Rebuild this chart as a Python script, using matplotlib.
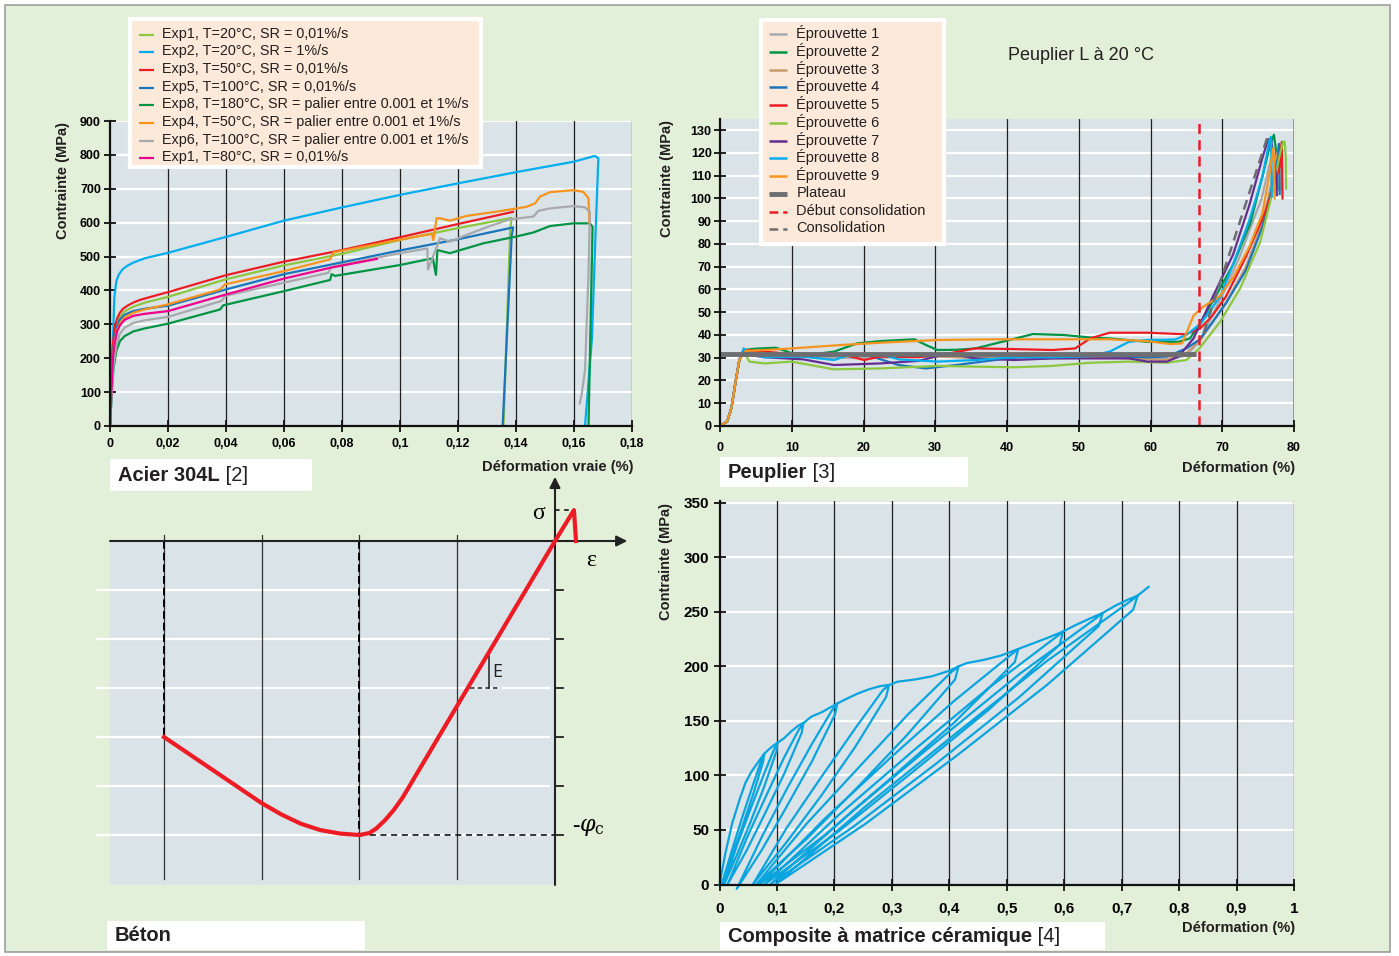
import matplotlib
matplotlib.use('Agg')
import matplotlib.pyplot as plt
from matplotlib.patches import Rectangle

plt.rcParams['font.family'] = ['Liberation Sans', 'DejaVu Sans']

W, H = 1399, 956
GREEN_BG = '#e2efd9'
PLOT_BG = '#dae3e8'
PEACH = '#fde9d9'
GRID_V = '#1e1e1e'

# ---------------- Acier 304L ----------------
steel_labels = ['Exp1, T=20°C, SR = 0,01%/s', 'Exp2, T=20°C, SR = 1%/s',
                'Exp3, T=50°C, SR = 0,01%/s', 'Exp5, T=100°C, SR = 0,01%/s',
                'Exp8, T=180°C, SR = palier entre 0.001 et 1%/s',
                'Exp4, T=50°C, SR = palier entre 0.001 et 1%/s',
                'Exp6, T=100°C, SR = palier entre 0.001 et 1%/s',
                'Exp1, T=80°C, SR = 0,01%/s']
steel_colors = ['#8dc63f', '#00aeef', '#ed1c24', '#1b75bc', '#009444', '#f7941d', '#a7a9ac', '#ec008c']

exp1_20_x = [0, 0.0004, 0.001, 0.0016, 0.0025, 0.0035, 0.005, 0.008, 0.012, 0.02, 0.04, 0.06, 0.08, 0.1,
             0.12, 0.1385, 0.138, 0.1357]
exp1_20_y = [0, 100, 230, 270, 300, 322, 338, 352, 364, 381, 433, 474, 508, 549, 584, 614, 580, 0]
exp2_x = [0, 0.0006, 0.001, 0.0015, 0.0022, 0.003, 0.0042, 0.0058, 0.008, 0.012, 0.02, 0.04, 0.06, 0.08,
          0.1, 0.12, 0.14, 0.16, 0.1672, 0.1684, 0.1674, 0.1662, 0.1638]
exp2_y = [0, 100, 250, 380, 428, 446, 461, 472, 482, 495, 511, 558, 606, 645, 682, 716, 749, 780, 797, 790,
          560, 260, 0]
exp3_x = [0, 0.0003, 0.0009, 0.0017, 0.0025, 0.0034, 0.0045, 0.006, 0.008, 0.0103, 0.014, 0.02, 0.04, 0.06,
          0.08, 0.1, 0.12, 0.139]
exp3_y = [0, 90, 235, 295, 318, 334, 346, 355, 364, 372, 381, 395, 445, 485, 519, 557, 596, 632]
exp5_x = [0, 0.0004, 0.001, 0.0016, 0.0025, 0.0034, 0.005, 0.008, 0.012, 0.02, 0.04, 0.06, 0.08, 0.1, 0.12,
          0.139, 0.1385, 0.1354]
exp5_y = [0, 90, 215, 258, 295, 314, 328, 339, 346, 355, 403, 448, 483, 518, 551, 586, 560, 0]
exp8_x = [0, 0.0005, 0.0012, 0.0022, 0.0034, 0.005, 0.008, 0.012, 0.02, 0.038, 0.039, 0.06, 0.0759, 0.0764,
          0.0776, 0.1, 0.1113, 0.1124, 0.1129, 0.1172, 0.1287, 0.14, 0.146, 0.1517, 0.1598, 0.1655, 0.1664,
          0.165]
exp8_y = [0, 80, 170, 222, 250, 265, 279, 288, 302, 344, 356, 398, 431, 448, 443, 475,
          495, 446, 519, 510, 539, 559, 571, 590, 598, 598, 588, 0]
exp4_x = [0, 0.0004, 0.001, 0.0016, 0.0025, 0.0034, 0.005, 0.008, 0.012, 0.02, 0.038, 0.0397, 0.06, 0.0759,
          0.077, 0.1, 0.111, 0.1115, 0.1126, 0.1138, 0.1172, 0.123, 0.1345, 0.1437, 0.1466, 0.1483, 0.1517,
          0.1598, 0.1632, 0.165, 0.1653]
exp4_y = [0, 90, 200, 250, 284, 302, 320, 334, 344, 359, 403, 418, 457, 492, 512, 550, 567,
          549, 613, 613, 606, 620, 634, 647, 657, 677, 690, 696, 691, 672, 600]
exp6_x = [0, 0.0005, 0.0012, 0.0022, 0.0034, 0.005, 0.008, 0.012, 0.02, 0.0385, 0.0397, 0.06, 0.0753, 0.0764,
          0.1, 0.1094, 0.1097, 0.1138, 0.1172, 0.123, 0.131, 0.138, 0.146, 0.1477, 0.1517, 0.1598, 0.1638,
          0.1655, 0.165, 0.1638, 0.1627, 0.162]
exp6_y = [0, 80, 180, 238, 272, 290, 304, 312, 322, 369, 384, 423, 452, 470,
          510, 524, 462, 554, 544, 564, 590, 610, 618, 635, 642, 649, 645, 632, 450, 165, 96, 67]
exp1_80_x = [0, 0.0004, 0.001, 0.0016, 0.0025, 0.0034, 0.005, 0.008, 0.012, 0.02, 0.04, 0.06, 0.076, 0.092]
exp1_80_y = [0, 90, 200, 245, 280, 297, 313, 325, 331, 339, 388, 435, 467, 493]
steel_x = [exp1_20_x, exp2_x, exp3_x, exp5_x, exp8_x, exp4_x, exp6_x, exp1_80_x]
steel_y = [exp1_20_y, exp2_y, exp3_y, exp5_y, exp8_y, exp4_y, exp6_y, exp1_80_y]
steel_xticks = [0, 0.02, 0.04, 0.06, 0.08, 0.1, 0.12, 0.14, 0.16, 0.18]
steel_xticklabels = ['0', '0,02', '0,04', '0,06', '0,08', '0,1', '0,12', '0,14', '0,16', '0,18']
steel_yticks = [0, 100, 200, 300, 400, 500, 600, 700, 800, 900]

# ---------------- Peuplier ----------------
pop_labels = ['Éprouvette 1', 'Éprouvette 2', 'Éprouvette 3', 'Éprouvette 4', 'Éprouvette 5',
              'Éprouvette 6', 'Éprouvette 7', 'Éprouvette 8', 'Éprouvette 9']
pop_colors = ['#a7a9ac', '#009444', '#c69c6d', '#1b75bc', '#ed1c24', '#8dc63f', '#662d91', '#00aeef', '#f7941d']
ep1_x = [0, 1, 1.6, 2.2, 2.7, 3.3, 6, 10, 15, 20, 25, 30, 35, 40, 45, 50, 55, 60, 63, 65, 67, 68.5, 70.4,
         72.5, 74.5, 75.5, 76.6, 77.1, 77.3]
ep1_y = [0, 2, 8, 20, 29, 33, 31, 30.5, 30, 29.8, 30.2, 30.5, 30, 29.5, 29.5, 30, 30, 29.5, 29.5, 31, 38, 48, 60,
         75, 92, 100, 115, 120, 108]
ep2_x = [0, 1, 1.6, 2.2, 2.7, 3.3, 5, 7.8, 10, 13, 15.9, 19.1, 22.3, 27.1, 28.7, 30.3, 33, 35.6, 39.3, 43.6,
         47.9, 51.6, 54.3, 59.6, 63.9, 65.5, 66.9, 69.3, 71.6, 73.9, 75.7, 76.7, 77.2, 77.5, 77.7]
ep2_y = [0, 2, 8, 20, 29, 33.4, 34, 34.4, 32, 31.5, 32.7, 36.3, 37.3, 38.1, 35.6, 33.4, 33.5, 34.1, 37, 40.4,
         40, 38.9, 38.5, 37, 37, 38.5, 45.1, 58.3, 71.5, 89, 111, 124, 128, 121, 104]
ep3_x = [0, 1, 1.6, 2.2, 2.7, 3.3, 6, 10, 15, 20, 27.6, 35, 45, 55, 62, 65, 67, 68.5, 70.5, 73.3, 75, 76.4,
         77.5, 78, 78.1, 78.2]
ep3_y = [0, 2, 8, 20, 29, 33, 31.5, 31, 31, 31, 31, 30, 30.5, 30, 29, 32, 38, 45, 54, 70, 84, 100,
         118, 124, 115, 104]
ep4_x = [0, 1, 1.6, 2.2, 2.7, 3.3, 6.2, 11.6, 15.9, 20.1, 24.9, 28.7, 32.9, 38.3, 43.6, 49, 54.3, 59.6, 62.3,
         65, 66.8, 68.5, 70.5, 73.3, 75.6, 77.1, 77.8, 77.9, 78.0]
ep4_y = [0, 2, 8, 20, 29, 33.4, 30.7, 31.2, 31.2, 31.6, 26.8, 25.3, 26.8, 29, 31.2, 31.2, 30.7, 30.2, 30.5,
         34.1, 37.9, 45, 53.9, 68.5, 87.6, 106.6, 118.3, 124, 102]
ep5_x = [0, 1, 1.6, 2.2, 2.7, 3.3, 6.2, 11.6, 16.9, 20.1, 22.3, 27.6, 31.9, 35.6, 41, 46.3, 49.5, 51.6, 54.3,
         59.6, 64.9, 66.9, 68.5, 70.5, 73.3, 76.1, 78, 78.3, 78.4]
ep5_y = [0, 2, 8, 20, 29, 33.4, 32.7, 31.2, 31.6, 29, 30.5, 30.2, 31.9, 34.1, 33.8, 33.4, 34.1, 38.5, 41,
         41, 40.3, 42.8, 48, 56.8, 74.4, 94.8, 113.9, 124.9, 100]
ep6_x = [0, 1, 1.6, 2.2, 2.7, 3.3, 4.1, 6.2, 10, 15.9, 22.3, 30.3, 35.6, 41, 46.3, 51.6, 57, 62.3, 65, 66.8,
         69.7, 72.5, 75.3, 76.9, 78, 78.5, 78.7, 78.85, 78.9]
ep6_y = [0, 2, 8, 20, 29, 32.7, 28.3, 27.5, 28.3, 24.9, 25.3, 26.4, 26.1, 25.8, 26.4, 27.8, 28.3, 27.8, 29, 34,
         45.8, 60.5, 81, 101.5, 119, 125, 125, 118, 104.4]
ep7_x = [0, 1, 1.6, 2.2, 2.7, 3.3, 4.1, 6.2, 11.6, 15.9, 22.3, 27.6, 31.9, 35.6, 41, 46.3, 51.6, 57, 59.6,
         62.3, 63.9, 66, 68.7, 71.5, 73.8, 75.6, 76.4, 76.8, 77.5, 77.6]
ep7_y = [0, 2, 8, 20, 29, 33.4, 31.2, 30.2, 29.3, 26.8, 27.5, 28.6, 31.9, 29.7, 29, 29.7, 29.7, 29.7, 28.3,
         28.3, 30.5, 38.5, 56.9, 75.3, 97.3, 117.9, 126, 126, 110, 101.5]
ep8_x = [0, 1, 1.6, 2.2, 2.7, 3.3, 4.1, 6.2, 11.6, 15.9, 18, 22.3, 24.9, 30.3, 35.6, 41, 46.3, 51.6, 54.3, 57,
         59.6, 63.4, 65, 67, 69.7, 71.5, 73.8, 75.6, 76.6, 76.8, 76.9]
ep8_y = [0, 2, 8, 20, 29, 34.1, 31.6, 30.2, 30.5, 29, 31.2, 31.6, 29.3, 28.3, 29, 30.2, 30.2, 30.7, 32.7, 37,
         37.8, 38, 40, 45, 56.9, 70.9, 90.6, 109.5, 125.7, 127.1, 100.8]
ep9_x = [0, 1, 1.6, 2.2, 2.7, 3.6, 6.2, 10, 16.9, 22.3, 30.3, 38.3, 49, 54.3, 59.6, 62.8, 64.4, 66, 67.2,
         69.6, 71.6, 73.8, 75.6, 76.6, 77.1, 77.25, 77.3]
ep9_y = [0, 2, 8, 20, 29, 33, 33.4, 34.1, 35.6, 36.6, 37.8, 38.1, 38.1, 38.1, 37.3, 36, 36.3, 48.5, 52.1,
         56.9, 65.7, 78.9, 93.5, 111, 122, 115, 100]
pop_x = [ep1_x, ep2_x, ep3_x, ep4_x, ep5_x, ep6_x, ep7_x, ep8_x, ep9_x]
pop_y = [ep1_y, ep2_y, ep3_y, ep4_y, ep5_y, ep6_y, ep7_y, ep8_y, ep9_y]
plateau_x = [0, 66.4]
plateau_y = [31.6, 31.6]
debut_consolidation = 66.7
consol_x = [67.4, 76.3]
consol_y = [40.8, 127]

# ---------------- Béton (schéma) ----------------
beton_eps = [-4.0, -3.5, -3.0, -2.8, -2.6, -2.4, -2.2, -2.0, -1.9, -1.83, -1.74, -1.65, -1.56, 0.0, 0.194, 0.215]
beton_sig = [-4.0, -4.675, -5.35, -5.58, -5.77, -5.90, -5.97, -6.0, -5.96, -5.87, -5.70, -5.49, -5.24, 0.0,
             0.63, 0.0]
phi_c = -6.0

# ---------------- Composite à matrice céramique ----------------
comp_x = [0, 0.01, 0.022, 0.035, 0.045, 0.055, 0.063, 0.071, 0.078,
          0.076, 0.06, 0.041, 0.022, 0.004, 0.022, 0.041, 0.06, 0.073, 0.078,
          0.086, 0.094, 0.101,
          0.099, 0.078, 0.0545, 0.031, 0.008, 0.031, 0.0545, 0.078, 0.095, 0.101,
          0.112, 0.126, 0.138, 0.146,
          0.143, 0.113, 0.08, 0.047, 0.014, 0.047, 0.08, 0.113, 0.138, 0.146,
          0.16, 0.178, 0.195, 0.205,
          0.201, 0.161, 0.1175, 0.074, 0.03, 0.074, 0.1175, 0.161, 0.196, 0.205,
          0.22, 0.24, 0.26, 0.28, 0.295,
          0.29, 0.236, 0.1765, 0.117, 0.058, 0.117, 0.1765, 0.236, 0.284, 0.295,
          0.31, 0.34, 0.37, 0.4, 0.416,
          0.41, 0.328, 0.24, 0.152, 0.064, 0.152, 0.24, 0.328, 0.404, 0.416,
          0.43, 0.46, 0.49, 0.52,
          0.514, 0.4075, 0.295, 0.1825, 0.07, 0.1825, 0.295, 0.4075, 0.508, 0.52,
          0.54, 0.57, 0.598,
          0.592, 0.468, 0.338, 0.208, 0.078, 0.208, 0.338, 0.468, 0.586, 0.598,
          0.62, 0.645, 0.667,
          0.66, 0.522, 0.3775, 0.233, 0.088, 0.233, 0.3775, 0.522, 0.655, 0.667,
          0.69, 0.71, 0.728,
          0.72, 0.57, 0.4125, 0.255, 0.097, 0.255, 0.4125, 0.57, 0.716, 0.728,
          0.747]
comp_y = [0, 28, 56, 78, 93, 103, 109, 115, 120,
          113, 85, 55, 26, 0, 32, 64, 94, 114, 120,
          124, 127.5, 130,
          122, 90, 58, 28, 0, 37, 70, 102, 124, 130,
          134, 141, 146, 148,
          139, 102, 66, 31, 0, 42, 80, 117, 142, 148,
          154, 158, 163, 166,
          156, 113, 72, 32, -4, 44, 88, 129, 160, 166,
          170, 175, 179, 182, 183,
          172, 126, 81, 39, 0, 52, 98, 143, 178, 183,
          186, 188, 191, 196, 200,
          188, 138, 89, 42, 0, 56, 106, 156, 195, 200,
          203, 206, 210, 216,
          204, 148, 96, 45, 0, 60, 115, 168, 211, 216,
          220, 226, 232,
          220, 160, 104, 49, 0, 64, 123, 180, 227, 232,
          238, 244, 249,
          237, 172, 111, 53, 0, 68, 131, 193, 244, 249,
          256, 261, 265,
          252, 183, 118, 56, 0, 72, 139, 205, 260, 265,
          273]
comp_xticks = [0, 0.1, 0.2, 0.3, 0.4, 0.5, 0.6, 0.7, 0.8, 0.9, 1]
comp_xticklabels = ['0', '0,1', '0,2', '0,3', '0,4', '0,5', '0,6', '0,7', '0,8', '0,9', '1']
comp_yticks = [0, 50, 100, 150, 200, 250, 300, 350]


fig = plt.figure(figsize=(W / 100, H / 100), dpi=100)
fig.patches.append(Rectangle((5 / W, 4 / H), 1385 / W, 947 / H, transform=fig.transFigure,
                             facecolor=GREEN_BG, edgecolor='#9d9d9d', lw=1.2, zorder=-10))


def add_px_axes(l, t, r, b):
    return fig.add_axes([l / W, 1 - b / H, (r - l) / W, (b - t) / H])


def style_axes(ax, xgrid, ygrid, fs, xpad, ypad):
    ax.set_facecolor(PLOT_BG)
    for s in ['top', 'right']:
        ax.spines[s].set_visible(False)
    for s in ['left', 'bottom']:
        ax.spines[s].set_linewidth(1.6)
        ax.spines[s].set_color('#111111')
        ax.spines[s].set_zorder(5)
    for y in ygrid:
        ax.axhline(y, color='white', lw=1.6, zorder=1)
    for x in xgrid:
        ax.axvline(x, color=GRID_V, lw=0.9, zorder=1)
    ax.tick_params(direction='inout', length=8, width=1.3, labelsize=fs, color='#111111')
    ax.tick_params(axis='x', pad=xpad)
    ax.tick_params(axis='y', pad=ypad)
    for lab in ax.get_xticklabels() + ax.get_yticklabels():
        lab.set_fontweight('bold')


# ---- panel Acier ----
axA = add_px_axes(110, 121, 632, 426)
axA.set_xlim(0, 0.18)
axA.set_ylim(0, 900)
axA.set_xticks(steel_xticks)
axA.set_xticklabels(steel_xticklabels)
axA.set_yticks(steel_yticks)
style_axes(axA, steel_xticks[1:], steel_yticks[1:], 9, 4.5, 2.5)
for xs, ys, c in zip(steel_x, steel_y, steel_colors):
    axA.plot(xs, ys, color=c, lw=1.6, zorder=3, solid_joinstyle='round')

# ---- panel Peuplier ----
axB = add_px_axes(720, 119.3, 1294, 426)
axB.set_xlim(0, 80)
axB.set_ylim(0, 134.8)
axB.set_xticks(range(0, 81, 10))
axB.set_yticks(range(0, 131, 10))
style_axes(axB, range(10, 71, 10), range(10, 131, 10), 9, 7.5, 2)
axB.axvline(80, color='#8a8a8a', lw=1.2, zorder=1)
for xs, ys, c in zip(pop_x, pop_y, pop_colors):
    axB.plot(xs, ys, color=c, lw=1.6, zorder=3, solid_joinstyle='round')
axB.plot(plateau_x, plateau_y, color='#6d6e71', lw=3.5, zorder=4, solid_capstyle='butt')
axB.axvline(debut_consolidation, color='#ed1c24', lw=1.8, ls=(0, (4, 2.5)), zorder=4)
axB.plot(consol_x, consol_y, color='#6d6e71', lw=1.8, ls=(0, (4, 2.5)), zorder=4)

# ---- panel Composite ----
axD = add_px_axes(719.5, 500.7, 1294, 884.5)
axD.set_xlim(0, 1)
axD.set_ylim(0, 352)
axD.set_xticks(comp_xticks)
axD.set_xticklabels(comp_xticklabels)
axD.set_yticks(comp_yticks)
style_axes(axD, comp_xticks[1:], comp_yticks[1:], 11, 8.5, 3.5)
axD.plot(comp_x, comp_y, color='#0aa5df', lw=1.6, zorder=3, clip_on=False, solid_joinstyle='round')

# ---- panel Béton (schéma) ----
bx = add_px_axes(90, 470, 640, 895)
bx.set_xlim(-4.757, 0.8696)
bx.set_ylim(-7.224, 1.449)
bx.axis('off')
bx.add_patch(Rectangle((-4.552, -7.02), 4.552, 7.02, facecolor=PLOT_BG, edgecolor='none', zorder=0))
for s in range(-6, 0):
    bx.plot([-4.685, -0.06], [s, s], color='white', lw=1.6, zorder=1)
    bx.plot([0, 0.085], [s, s], color='#222222', lw=1.3, zorder=2)
for e in [-4, -3, -2, -1]:
    bx.plot([e, e], [0.12, -6.9], color='#333333', lw=0.9, zorder=2)
bx.plot([-4, -4], [0, beton_sig[0]], color='black', lw=1.4, ls=(0, (4, 2)), zorder=3)
bx.plot([-2, -2], [0, phi_c], color='black', lw=1.4, ls=(0, (4, 2)), zorder=3)
bx.plot([-2, 0], [phi_c, phi_c], color='black', lw=1.1, ls=(0, (4, 3)), zorder=3)
bx.plot([0, 0.19], [0.63, 0.63], color='black', lw=1.1, ls=(0, (3, 3)), zorder=3)
bx.annotate('', xy=(0.74, 0), xytext=(-4.552, 0),
            arrowprops=dict(arrowstyle='-|>', color='#222222', lw=1.5, mutation_scale=16, shrinkA=0, shrinkB=0))
bx.annotate('', xy=(0, 1.31), xytext=(0, -7.02),
            arrowprops=dict(arrowstyle='-|>', color='#222222', lw=1.5, mutation_scale=16, shrinkA=0, shrinkB=0))
bx.plot(beton_eps, beton_sig, color='#ed1c24', lw=3, zorder=5, solid_joinstyle='round')
bx.plot([-0.675, -0.675], [-2.29, -3.0], color='#222222', lw=1.1, zorder=4)
bx.plot([-0.87, -0.55], [-3.0, -3.0], color='#222222', lw=1.1, ls=(0, (3, 2)), zorder=4)
bx.text(-0.64, -2.67, 'E', fontsize=13, family='Open Sans', va='center', ha='left', color='#222222')
bx.text(-0.17, 0.57, 'σ', fontsize=17, family=['Liberation Serif', 'DejaVu Serif'], ha='center', va='center')
bx.text(0.37, -0.39, 'ε', fontsize=17, family=['Liberation Serif', 'DejaVu Serif'], ha='center', va='center')
bx.text(0.17, -5.84, r'-$\varphi_{\rm c}$', fontsize=16, family=['Liberation Serif', 'DejaVu Serif'],
        math_fontfamily='dejavuserif', ha='left', va='center')

# ---- overlay : legends, titles, labels ----
ov = fig.add_axes([0, 0, 1, 1], zorder=10)
ov.set_xlim(0, W)
ov.set_ylim(H, 0)
ov.axis('off')
renderer = fig.canvas.get_renderer()


def legend_box(x0, y0, x1, y1, entries, hx0, hx1, tx, ry0, rdy, fs):
    ov.add_patch(Rectangle((x0, y0), x1 - x0, y1 - y0, facecolor=PEACH, edgecolor='white', lw=3))
    for i, (lab, kw) in enumerate(entries):
        y = ry0 + i * rdy
        ov.plot([hx0, hx1], [y + 1, y + 1], solid_capstyle='butt', dash_capstyle='butt', **kw)
        ov.text(tx, y, lab, fontsize=fs, va='center', ha='left', color='#231f20')


entriesA = [(lab, dict(color=c, lw=1.6)) for lab, c in zip(steel_labels, steel_colors)]
legend_box(129.6, 19.3, 480.5, 166.7, entriesA, 139, 154, 162.5, 33.5, 17.67, 10.4)

entriesB = [(lab, dict(color=c, lw=1.8)) for lab, c in zip(pop_labels, pop_colors)]
entriesB += [('Plateau', dict(color='#6d6e71', lw=3.5)),
             ('Début consolidation', dict(color='#ed1c24', lw=1.8, ls=(0, (3.5, 2)))),
             ('Consolidation', dict(color='#6d6e71', lw=1.8, ls=(0, (3.5, 2))))]
legend_box(761, 20, 944, 244.3, entriesB, 769, 787, 796.5, 33.3, 17.73, 10.5)

ov.text(1081, 55, 'Peuplier L à 20 °C', fontsize=13, ha='center', va='center', color='#231f20')


def title_box(x0, y0, x1, y1, bold, rest, fs=14.5):
    ov.add_patch(Rectangle((x0, y0), x1 - x0, y1 - y0, facecolor='white', edgecolor='none'))
    yc = (y0 + y1) / 2
    t = ov.text(x0 + 8, yc, bold, fontsize=fs, fontweight='bold', va='center', ha='left', color='#231f20')
    if rest:
        bb = t.get_window_extent(renderer)
        ov.text(bb.x1, yc, rest, fontsize=fs, va='center', ha='left', color='#231f20')


title_box(110, 459, 312, 491, 'Acier 304L', ' [2]')
title_box(720, 457, 968, 487, 'Peuplier', ' [3]')
title_box(107, 921, 365, 950, 'Béton', '')
title_box(720, 922, 1105, 950, 'Composite à matrice céramique', ' [4]')

lab_kw = dict(fontsize=10.5, fontweight='bold', color='#231f20')
ov.text(62.8, 180, 'Contrainte (MPa)', rotation=90, ha='center', va='center', **lab_kw)
ov.text(667, 178, 'Contrainte (MPa)', rotation=90, ha='center', va='center', **lab_kw)
ov.text(666, 561, 'Contrainte (MPa)', rotation=90, ha='center', va='center', **lab_kw)
ov.text(633, 466.5, 'Déformation vraie (%)', ha='right', va='center', **lab_kw)
ov.text(1295, 468.3, 'Déformation (%)', ha='right', va='center', **lab_kw)
ov.text(1295, 928, 'Déformation (%)', ha='right', va='center', **lab_kw)

fig.savefig('out.png', dpi=100)
